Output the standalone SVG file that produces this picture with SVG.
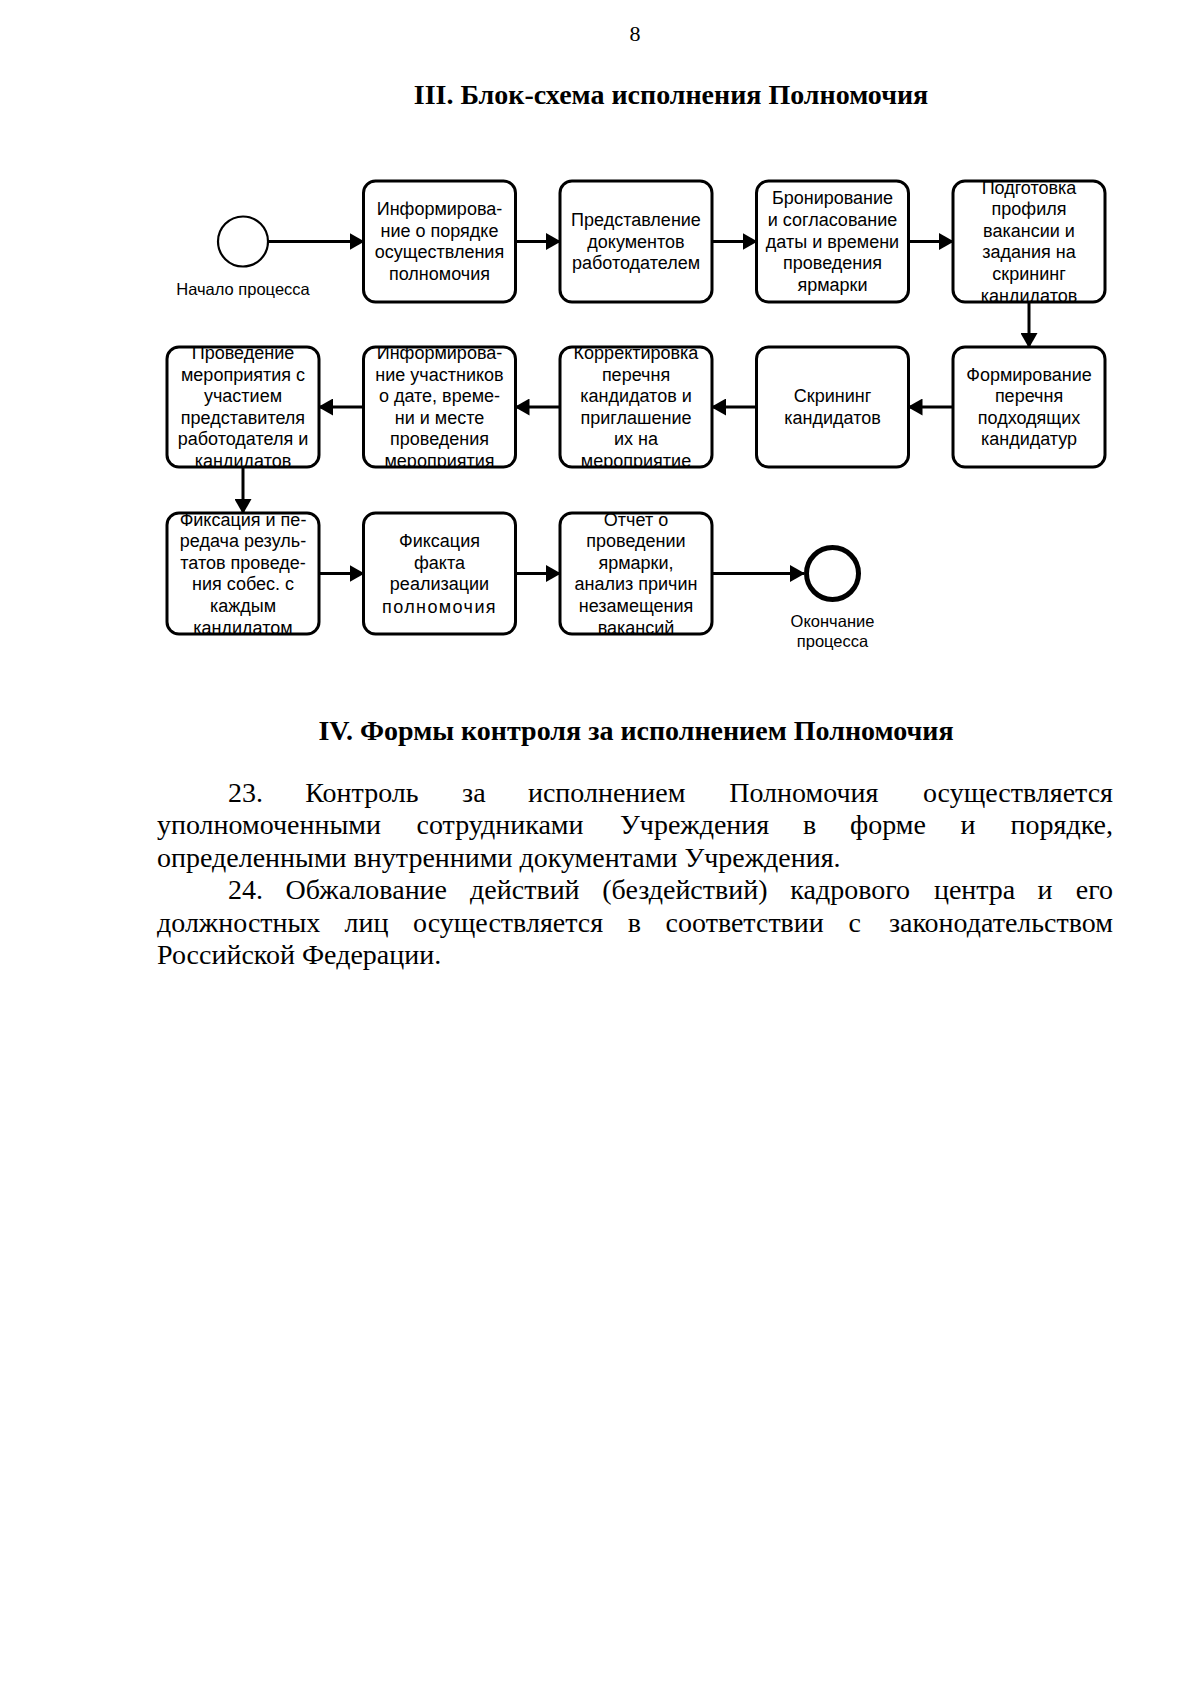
<svg xmlns="http://www.w3.org/2000/svg" width="1200" height="1697" viewBox="0 0 1200 1697">
<style>
.box{fill:none;stroke:#000;stroke-width:3}
.bg{fill:#fff;stroke:none}
.bt{font-family:"Liberation Sans",Arial,sans-serif;font-size:18px;text-anchor:middle;fill:#000}
.lbl{font-family:"Liberation Sans",Arial,sans-serif;font-size:16.5px;text-anchor:middle;fill:#000}
.conn{stroke:#000;stroke-width:3;fill:none;marker-end:url(#ah)}
.doc{font-family:"Liberation Serif","Times New Roman",serif;font-size:28px;fill:#000}
.h{font-weight:bold;text-anchor:middle}
.e{text-anchor:end}
</style>
<defs>
<marker id="ah" viewBox="0 0 15 17" refX="14" refY="8.5" markerWidth="15" markerHeight="17" markerUnits="userSpaceOnUse" orient="auto"><path d="M0,0 L15,8.5 L0,17 z" fill="#000"/></marker>
<clipPath id="c11"><rect x="363.5" y="181" width="152" height="121" rx="12"/></clipPath>
<clipPath id="c12"><rect x="560" y="181" width="152" height="121" rx="12"/></clipPath>
<clipPath id="c13"><rect x="756.5" y="181" width="152" height="121" rx="12"/></clipPath>
<clipPath id="c14"><rect x="953" y="181" width="152" height="121" rx="12"/></clipPath>
<clipPath id="c20"><rect x="167" y="347" width="152" height="120" rx="12"/></clipPath>
<clipPath id="c21"><rect x="363.5" y="347" width="152" height="120" rx="12"/></clipPath>
<clipPath id="c22"><rect x="560" y="347" width="152" height="120" rx="12"/></clipPath>
<clipPath id="c23"><rect x="756.5" y="347" width="152" height="120" rx="12"/></clipPath>
<clipPath id="c24"><rect x="953" y="347" width="152" height="120" rx="12"/></clipPath>
<clipPath id="c30"><rect x="167" y="513" width="152" height="121" rx="12"/></clipPath>
<clipPath id="c31"><rect x="363.5" y="513" width="152" height="121" rx="12"/></clipPath>
<clipPath id="c32"><rect x="560" y="513" width="152" height="121" rx="12"/></clipPath>
</defs>
<rect x="0" y="0" width="1200" height="1697" fill="#fff"/>

<text class="doc" x="635" y="41" text-anchor="middle" style="font-size:22px">8</text>
<text class="doc h" x="671" y="104">III. Блок-схема исполнения Полномочия</text>

<g id="connectors">
<line class="conn" x1="268" y1="241.5" x2="363.5" y2="241.5"/>
<line class="conn" x1="515.5" y1="241.5" x2="560" y2="241.5"/>
<line class="conn" x1="712" y1="241.5" x2="756.5" y2="241.5"/>
<line class="conn" x1="908.5" y1="241.5" x2="953" y2="241.5"/>
<line class="conn" x1="1029" y1="302" x2="1029" y2="347"/>
<line class="conn" x1="953" y1="407" x2="908.5" y2="407"/>
<line class="conn" x1="756.5" y1="407" x2="712" y2="407"/>
<line class="conn" x1="560" y1="407" x2="515.5" y2="407"/>
<line class="conn" x1="363.5" y1="407" x2="319" y2="407"/>
<line class="conn" x1="243" y1="467" x2="243" y2="513"/>
<line class="conn" x1="319" y1="573.5" x2="363.5" y2="573.5"/>
<line class="conn" x1="515.5" y1="573.5" x2="560" y2="573.5"/>
<line class="conn" x1="712" y1="573.5" x2="804" y2="573.5"/>
</g>

<g id="start">
<circle cx="243" cy="241.5" r="25" fill="#fff" stroke="#000" stroke-width="2.2"/>
<text class="lbl" x="243" y="295">Начало процесса</text>
</g>

<g id="n11">
<rect class="bg" x="363.5" y="181" width="152" height="121" rx="12"/>
<g clip-path="url(#c11)">
<text class="bt" x="439.5" y="215">Информирова-</text>
<text class="bt" x="439.5" y="237">ние о порядке</text>
<text class="bt" x="439.5" y="258">осуществления</text>
<text class="bt" x="439.5" y="280">полномочия</text>
</g>
<rect class="box" x="363.5" y="181" width="152" height="121" rx="12"/>
</g>

<g id="n12">
<rect class="bg" x="560" y="181" width="152" height="121" rx="12"/>
<g clip-path="url(#c12)">
<text class="bt" x="636" y="226">Представление</text>
<text class="bt" x="636" y="247.5">документов</text>
<text class="bt" x="636" y="269">работодателем</text>
</g>
<rect class="box" x="560" y="181" width="152" height="121" rx="12"/>
</g>

<g id="n13">
<rect class="bg" x="756.5" y="181" width="152" height="121" rx="12"/>
<g clip-path="url(#c13)">
<text class="bt" x="832.5" y="204">Бронирование</text>
<text class="bt" x="832.5" y="226">и согласование</text>
<text class="bt" x="832.5" y="247.5">даты и времени</text>
<text class="bt" x="832.5" y="269">проведения</text>
<text class="bt" x="832.5" y="291">ярмарки</text>
</g>
<rect class="box" x="756.5" y="181" width="152" height="121" rx="12"/>
</g>

<g id="n14">
<rect class="bg" x="953" y="181" width="152" height="121" rx="12"/>
<g clip-path="url(#c14)">
<text class="bt" x="1029" y="193.5">Подготовка</text>
<text class="bt" x="1029" y="215">профиля</text>
<text class="bt" x="1029" y="237">вакансии и</text>
<text class="bt" x="1029" y="258">задания на</text>
<text class="bt" x="1029" y="280">скрининг</text>
<text class="bt" x="1029" y="301.5">кандидатов</text>
</g>
<rect class="box" x="953" y="181" width="152" height="121" rx="12"/>
</g>

<g id="n24">
<rect class="bg" x="953" y="347" width="152" height="120" rx="12"/>
<g clip-path="url(#c24)">
<text class="bt" x="1029" y="380.6">Формирование</text>
<text class="bt" x="1029" y="402.2">перечня</text>
<text class="bt" x="1029" y="423.8">подходящих</text>
<text class="bt" x="1029" y="445.4">кандидатур</text>
</g>
<rect class="box" x="953" y="347" width="152" height="120" rx="12"/>
</g>

<g id="n23">
<rect class="bg" x="756.5" y="347" width="152" height="120" rx="12"/>
<g clip-path="url(#c23)">
<text class="bt" x="832.5" y="402.2">Скрининг</text>
<text class="bt" x="832.5" y="423.8">кандидатов</text>
</g>
<rect class="box" x="756.5" y="347" width="152" height="120" rx="12"/>
</g>

<g id="n22">
<rect class="bg" x="560" y="347" width="152" height="120" rx="12"/>
<g clip-path="url(#c22)">
<text class="bt" x="636" y="359">Корректировка</text>
<text class="bt" x="636" y="380.6">перечня</text>
<text class="bt" x="636" y="402.2">кандидатов и</text>
<text class="bt" x="636" y="423.8">приглашение</text>
<text class="bt" x="636" y="445.4">их на</text>
<text class="bt" x="636" y="467">мероприятие</text>
</g>
<rect class="box" x="560" y="347" width="152" height="120" rx="12"/>
</g>

<g id="n21">
<rect class="bg" x="363.5" y="347" width="152" height="120" rx="12"/>
<g clip-path="url(#c21)">
<text class="bt" x="439.5" y="359">Информирова-</text>
<text class="bt" x="439.5" y="380.6">ние участников</text>
<text class="bt" x="439.5" y="402.2">о дате, време-</text>
<text class="bt" x="439.5" y="423.8">ни и месте</text>
<text class="bt" x="439.5" y="445.4">проведения</text>
<text class="bt" x="439.5" y="467">мероприятия</text>
</g>
<rect class="box" x="363.5" y="347" width="152" height="120" rx="12"/>
</g>

<g id="n20">
<rect class="bg" x="167" y="347" width="152" height="120" rx="12"/>
<g clip-path="url(#c20)">
<text class="bt" x="243" y="359">Проведение</text>
<text class="bt" x="243" y="380.6">мероприятия с</text>
<text class="bt" x="243" y="402.2">участием</text>
<text class="bt" x="243" y="423.8">представителя</text>
<text class="bt" x="243" y="445.4">работодателя и</text>
<text class="bt" x="243" y="467">кандидатов</text>
</g>
<rect class="box" x="167" y="347" width="152" height="120" rx="12"/>
</g>

<g id="n30">
<rect class="bg" x="167" y="513" width="152" height="121" rx="12"/>
<g clip-path="url(#c30)">
<text class="bt" x="243" y="525.5">Фиксация и пе-</text>
<text class="bt" x="243" y="547">редача резуль-</text>
<text class="bt" x="243" y="568.7">татов проведе-</text>
<text class="bt" x="243" y="590.3">ния собес. с</text>
<text class="bt" x="243" y="612">каждым</text>
<text class="bt" x="243" y="633.5">кандидатом</text>
</g>
<rect class="box" x="167" y="513" width="152" height="121" rx="12"/>
</g>

<g id="n31">
<rect class="bg" x="363.5" y="513" width="152" height="121" rx="12"/>
<g clip-path="url(#c31)">
<text class="bt" x="439.5" y="547">Фиксация</text>
<text class="bt" x="439.5" y="568.7">факта</text>
<text class="bt" x="439.5" y="590.3">реализации</text>
<text class="bt" x="439.5" y="613" style="letter-spacing:1.4px">полномочия</text>
</g>
<rect class="box" x="363.5" y="513" width="152" height="121" rx="12"/>
</g>

<g id="n32">
<rect class="bg" x="560" y="513" width="152" height="121" rx="12"/>
<g clip-path="url(#c32)">
<text class="bt" x="636" y="525.5">Отчет о</text>
<text class="bt" x="636" y="547">проведении</text>
<text class="bt" x="636" y="568.7">ярмарки,</text>
<text class="bt" x="636" y="590.3">анализ причин</text>
<text class="bt" x="636" y="612">незамещения</text>
<text class="bt" x="636" y="633.5">вакансий</text>
</g>
<rect class="box" x="560" y="513" width="152" height="121" rx="12"/>
</g>

<g id="end">
<circle cx="832.5" cy="573.5" r="26" fill="#fff" stroke="#000" stroke-width="5"/>
<text class="lbl" x="832.5" y="627">Окончание</text>
<text class="lbl" x="832.5" y="647">процесса</text>
</g>

<text class="doc h" x="636" y="740">IV. Формы контроля за исполнением Полномочия</text>

<g id="body" class="doc">
<text y="802"><tspan x="228">23.</tspan><tspan x="305.3">Контроль</tspan><tspan x="462.1">за</tspan><tspan x="527.9">исполнением</tspan><tspan x="729.2">Полномочия</tspan></text>
<text class="e" x="1113" y="802">осуществляется</text>
<text y="834"><tspan x="157">уполномоченными</tspan><tspan x="416.5">сотрудниками</tspan><tspan x="620">Учреждения</tspan><tspan x="803">в</tspan><tspan x="850.1">форме</tspan><tspan x="960.4">и</tspan></text>
<text class="e" x="1113" y="834">порядке,</text>
<text x="157" y="867">определенными внутренними документами Учреждения.</text>
<text y="899"><tspan x="228">24.</tspan><tspan x="285.6">Обжалование</tspan><tspan x="470.1">действий</tspan><tspan x="602.2">(бездействий)</tspan><tspan x="790.3">кадрового</tspan><tspan x="933.9">центра</tspan><tspan x="1037.5">и</tspan></text>
<text class="e" x="1113" y="899">его</text>
<text y="932"><tspan x="157">должностных</tspan><tspan x="344.6">лиц</tspan><tspan x="413">осуществляется</tspan><tspan x="627.8">в</tspan><tspan x="665.6">соответствии</tspan><tspan x="848.6">с</tspan></text>
<text class="e" x="1113" y="932">законодательством</text>
<text x="157" y="964">Российской Федерации.</text>
</g>
</svg>
